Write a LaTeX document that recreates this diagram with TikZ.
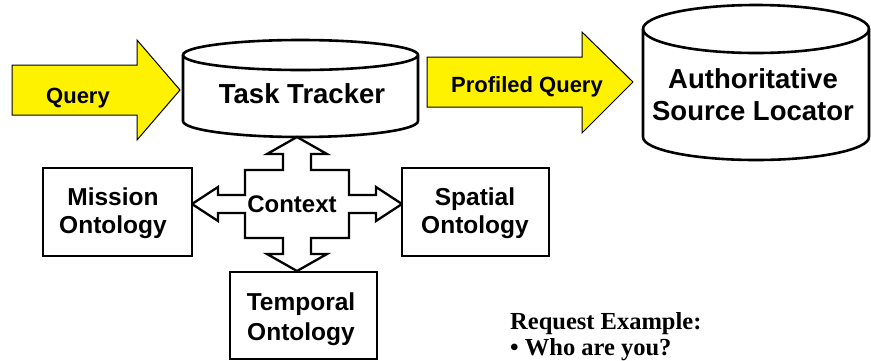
\documentclass[tikz,border=0pt]{standalone}
\usepackage{fontspec}
\setmainfont{Liberation Sans}
\newfontfamily\timesbf{Liberation Serif}
\begin{document}
\begin{tikzpicture}[x=1pt,y=-1pt,
  box/.style={draw=black,line width=2.6pt,fill=white},
  drum/.style={draw=black,line width=2.6pt,fill=white},
  yarrow/.style={draw=black,line width=1pt,fill=yellow,line join=miter},
  cross/.style={draw=black,line width=2.3pt,fill=white,line join=miter},
  lbl/.style={inner sep=0pt,anchor=base,font=\bfseries},
]
\useasboundingbox (0,0) rectangle (871,360);

% ---- Query block arrow
\draw[yarrow] (12,65) -- (137,65) -- (137,40) -- (180,90) -- (137,140)
  -- (137,115) -- (12,115) -- cycle;
\node[lbl,font=\bfseries\fontsize{22}{24}\selectfont] (query) at (78,103) {Query};

% ---- Task Tracker drum (y axis points down, so angle 90 is the lower side)
\draw[drum] (183,55) -- (183,121) arc[start angle=180,end angle=0,x radius=117.5,y radius=16]
  -- (418,55) arc[start angle=0,end angle=-180,x radius=117.5,y radius=15] -- cycle;
\draw[drum,fill=none] (183,55) arc[start angle=180,end angle=0,x radius=117.5,y radius=15];
\node[lbl,font=\bfseries\fontsize{27.5}{30}\selectfont] (tracker) at (302,103) {Task Tracker};

% ---- Profiled Query block arrow
\draw[yarrow] (427,57) -- (582,57) -- (582,32) -- (633,82) -- (582,133)
  -- (582,107) -- (427,107) -- cycle;
\node[lbl,font=\bfseries\fontsize{22}{24}\selectfont] (profiled) at (527,92) {Profiled Query};

% ---- Authoritative Source Locator drum
\draw[drum] (643,29) -- (643,137) arc[start angle=180,end angle=0,x radius=113,y radius=23]
  -- (869,29) arc[start angle=0,end angle=-180,x radius=113,y radius=24] -- cycle;
\draw[drum,fill=none] (643,29) arc[start angle=180,end angle=0,x radius=113,y radius=24];
\node[lbl,font=\bfseries\fontsize{27.5}{30}\selectfont] (asl1) at (753,88) {Authoritative};
\node[lbl,font=\bfseries\fontsize{27.5}{30}\selectfont] (asl2) at (753,120) {Source Locator};

% ---- Context cross with four arrowheads
\draw[cross] (297,137) -- (327,154) -- (311,154) -- (311,170) -- (349,170)
  -- (349,195) -- (376,195) -- (376,187) -- (402,204) -- (376,221) -- (376,213)
  -- (349,213) -- (349,238) -- (311,238) -- (311,254) -- (327,254) -- (297,271)
  -- (267,254) -- (283,254) -- (283,238) -- (245,238) -- (245,213) -- (218,213)
  -- (218,221) -- (192,204) -- (218,187) -- (218,195) -- (245,195) -- (245,170)
  -- (283,170) -- (283,154) -- (267,154) -- cycle;
\node[lbl,font=\bfseries\fontsize{24}{26}\selectfont] (context) at (292,212) {Context};

% ---- Ontology boxes
\draw[box] (43,168) rectangle (192,256);
\node[lbl,font=\bfseries\fontsize{24.5}{28}\selectfont] (mis1) at (113,205) {Mission};
\node[lbl,font=\bfseries\fontsize{24.5}{28}\selectfont] (mis2) at (113,233) {Ontology};

\draw[box] (402,168) rectangle (549,256);
\node[lbl,font=\bfseries\fontsize{24.5}{28}\selectfont] (spa1) at (475,205) {Spatial};
\node[lbl,font=\bfseries\fontsize{24.5}{28}\selectfont] (spa2) at (475,233) {Ontology};

\draw[box] (230,272) rectangle (377,359);
\node[lbl,font=\bfseries\fontsize{24.5}{28}\selectfont] (tem1) at (301,310) {Temporal};
\node[lbl,font=\bfseries\fontsize{24.5}{28}\selectfont] (tem2) at (301,340) {Ontology};

% ---- Request example
\node[inner sep=0pt,anchor=base west,font=\timesbf\bfseries\fontsize{24.5}{26}\selectfont] (req1) at (510,329) {Request Example:};
\node[inner sep=0pt,anchor=base west,font=\timesbf\bfseries\fontsize{24.5}{26}\selectfont] (req2) at (510,355) {\textbullet{} Who are you?};
\end{tikzpicture}
\end{document}
